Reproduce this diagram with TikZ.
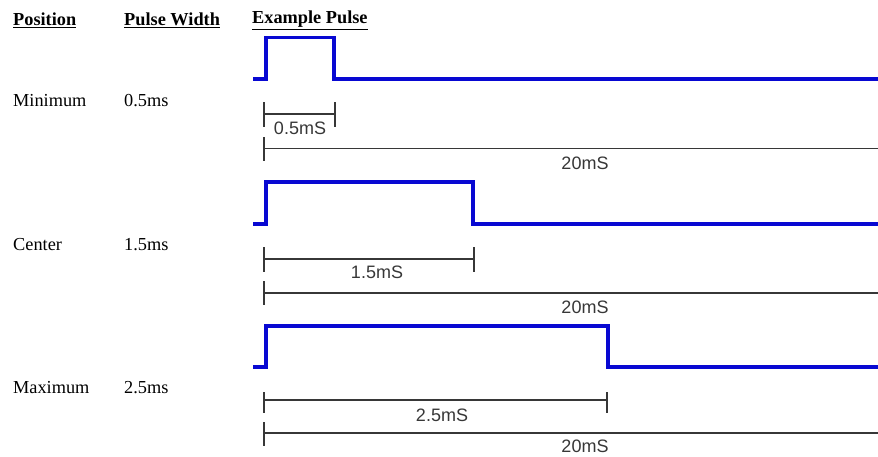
\documentclass[tikz,border=0pt]{standalone}
\usepackage{fontspec}
\setmainfont{Liberation Serif}
\newfontfamily\dimfont{Liberation Sans}
\definecolor{pulseblue}{RGB}{8,8,210}
\definecolor{dimgray}{RGB}{55,55,55}
\begin{document}
\begin{tikzpicture}[x=1pt,y=-1pt,
  hdr/.style={anchor=west,inner sep=0pt,font=\fontsize{18.3}{20}\selectfont\bfseries},
  lbl/.style={anchor=west,inner sep=0pt,font=\fontsize{18.3}{20}\selectfont},
  dimlbl/.style={inner sep=0pt,text=dimgray,font=\dimfont\fontsize{18}{20}\selectfont},
  pulse/.style={draw=pulseblue,line width=3.6pt,line join=miter},
  dimline/.style={draw=dimgray,line width=1.5pt}]
\useasboundingbox (0,0) rectangle (878,456);
% headers
\node[hdr] (hpos) at (13,20) {\underline{Position}};
\node[hdr] (hpw) at (124,20) {\underline{Pulse Width}};
\node[hdr] (hex) at (252,20) {\underline{Example Pulse}};
% row labels
\node[lbl] (pmin) at (13,101) {Minimum};
\node[lbl] (wmin) at (124,101) {0.5ms};
\node[lbl] (pcen) at (13,245) {Center};
\node[lbl] (wcen) at (124,245) {1.5ms};
\node[lbl] (pmax) at (13,388) {Maximum};
\node[lbl] (wmax) at (124,388) {2.5ms};
% pulses
\draw[pulse] (253,79) -- (266,79) -- (266,37.5) -- (334,37.5) -- (334,79) -- (880,79);
\draw[pulse] (253,224) -- (266,224) -- (266,182) -- (473,182) -- (473,224) -- (880,224);
\draw[pulse] (253,367) -- (266,367) -- (266,326) -- (608,326) -- (608,367) -- (880,367);
% row 1 dimensions
\draw[dimline] (264,102) -- (264,127) (335,102) -- (335,127) (264,114) -- (335,114);
\node[dimlbl] (d1) at (300,128) {0.5mS};
\draw[dimline] (264,137) -- (264,161) (264,148.5) -- (880,148.5);
\node[dimlbl] (t1) at (585,163) {20mS};
% row 2 dimensions
\draw[dimline] (264,247) -- (264,272) (474,247) -- (474,272) (264,259) -- (474,259);
\node[dimlbl] (d2) at (377,272) {1.5mS};
\draw[dimline] (264,281) -- (264,305) (264,293) -- (880,293);
\node[dimlbl] (t2) at (585,307) {20mS};
% row 3 dimensions
\draw[dimline] (264,392) -- (264,413) (607,392) -- (607,413) (264,400) -- (607,400);
\node[dimlbl] (d3) at (442,415) {2.5mS};
\draw[dimline] (264,422) -- (264,446) (264,433) -- (880,433);
\node[dimlbl] (t3) at (585,446.5) {20mS};
\end{tikzpicture}
\end{document}
